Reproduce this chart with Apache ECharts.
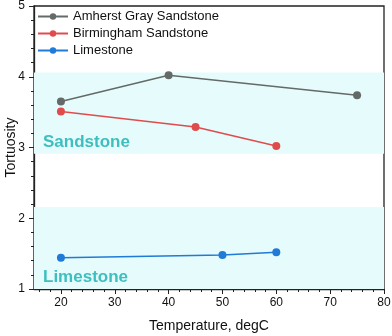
<!DOCTYPE html>
<html><head><meta charset="utf-8">
<script src="https://cdn.jsdelivr.net/npm/echarts@6/dist/echarts.min.js"></script>
<style>html,body{margin:0;padding:0;background:#fff}#c{width:392px;height:336px}</style>
</head><body><div id="c"></div>
<script>
const seriesNames = ['Amherst Gray Sandstone', 'Birmingham Sandstone', 'Limestone'];
const amherstX = [20, 40, 75];
const amherstY = [3.65, 4.02, 3.74];
const birminghamX = [20, 45, 60];
const birminghamY = [3.51, 3.29, 3.02];
const limestoneX = [20, 50, 60];
const limestoneY = [1.44, 1.48, 1.52];
const sandstoneBand = [2.91, 4.06];
const limestoneBand = [1, 2.16];
const bandLabels = ['Sandstone', 'Limestone'];
const xTickValues = [20, 30, 40, 50, 60, 70, 80];
const xMinorTicks = [];
for (let v = 16; v < 80; v += 2) if (v % 10 !== 0) xMinorTicks.push(v);
const yTickValues = [1, 2, 3, 4, 5];
const yMinorTicks = [];
for (let k = 6; k < 25; k++) if (k % 5 !== 0) yMinorTicks.push(k / 5);
const colors = ['#646a68', '#e04c4c', '#1f7ad8'];

const pairs = (xs, ys) => xs.map((x, i) => [x, ys[i]]);
const font = 'Liberation Sans, Arial, sans-serif';
const bandLabel = {show: true, position: 'insideBottomLeft', distance: 0, offset: [9, -3],
  color: '#3dbfbf', fontWeight: 'bold', fontSize: 17, fontFamily: font};

const chart = echarts.init(document.getElementById('c'));
chart.setOption({
  animation: false,
  grid: {left: 34, right: 8, top: 6, bottom: 47, outerBoundsMode: 'none', containLabel: false,
    show: true, borderColor: '#222', borderWidth: 1.3, backgroundColor: 'transparent'},
  legend: {
    orient: 'vertical', left: 37, top: 10, padding: 0, itemWidth: 30, itemHeight: 8, itemGap: 4,
    textStyle: {fontSize: 13, fontFamily: font, color: '#111'},
    data: seriesNames
  },
  xAxis: [{
    type: 'value', min: 15, max: 80,
    name: 'Temperature, degC', nameLocation: 'middle', nameGap: 30, nameMoveOverlap: false,
    nameTextStyle: {fontSize: 14, fontFamily: font, color: '#111'},
    axisLine: {show: true, lineStyle: {color: '#222', width: 1.3}},
    axisTick: {show: true, length: 5, customValues: xTickValues, lineStyle: {color: '#222'}},
    axisLabel: {fontSize: 12, fontFamily: font, color: '#111', margin: 8, customValues: xTickValues},
    splitLine: {show: false}
  }, {
    type: 'value', min: 15, max: 80, position: 'bottom',
    axisLine: {show: false},
    axisTick: {show: true, length: 3, customValues: xMinorTicks, lineStyle: {color: '#222'}},
    axisLabel: {show: false}, splitLine: {show: false}
  }],
  yAxis: [{
    type: 'value', min: 1, max: 5,
    name: 'Tortuosity', nameLocation: 'middle', nameGap: 16, nameMoveOverlap: false,
    nameTextStyle: {fontSize: 14, fontFamily: font, color: '#111'},
    axisLine: {show: true, lineStyle: {color: '#222', width: 1.3}},
    axisTick: {show: true, length: 5, customValues: yTickValues, lineStyle: {color: '#222'}},
    axisLabel: {fontSize: 12, fontFamily: font, color: '#111', margin: 9, customValues: yTickValues},
    splitLine: {show: false}
  }, {
    type: 'value', min: 1, max: 5, position: 'left',
    axisLine: {show: false},
    axisTick: {show: true, length: 3, customValues: yMinorTicks, lineStyle: {color: '#222'}},
    axisLabel: {show: false}, splitLine: {show: false}
  }],
  series: [
    {name: seriesNames[0], type: 'line', data: pairs(amherstX, amherstY), color: colors[0],
      symbol: 'circle', symbolSize: 8, lineStyle: {width: 1.5}, z: 3,
      markArea: {silent: true, itemStyle: {color: '#e6fbfb'}, label: bandLabel,
        data: [
          [{name: bandLabels[0], yAxis: sandstoneBand[1]}, {yAxis: sandstoneBand[0]}],
          [{name: bandLabels[1], yAxis: limestoneBand[1]}, {yAxis: limestoneBand[0]}]
        ]}},
    {name: seriesNames[1], type: 'line', data: pairs(birminghamX, birminghamY), color: colors[1],
      symbol: 'circle', symbolSize: 8, lineStyle: {width: 1.5}, z: 3},
    {name: seriesNames[2], type: 'line', data: pairs(limestoneX, limestoneY), color: colors[2],
      symbol: 'circle', symbolSize: 8, lineStyle: {width: 1.5}, z: 3}
  ]
});
</script></body></html>
